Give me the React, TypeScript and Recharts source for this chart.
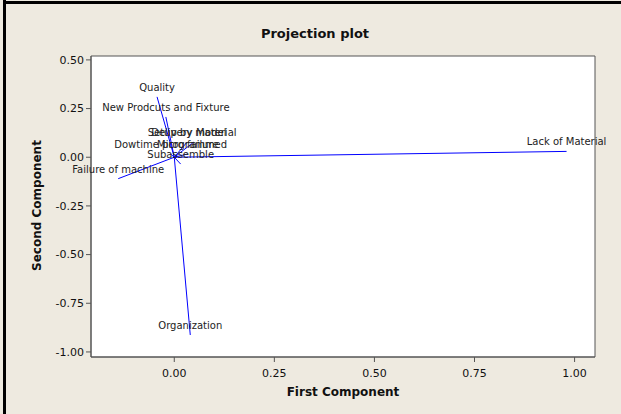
import React from 'react';
import { ScatterChart, Scatter, XAxis, YAxis, ReferenceArea } from 'recharts';

const variableNames = [
  'Lack of Material',
  'Organization',
  'Failure of machine',
  'Quality',
  'New Prodcuts and Fixture',
  'Setup by model',
  'Delivery Material',
  'Dowtime programmed',
  'Micro failure',
  'Subassemble',
];
const firstComponent = [0.98, 0.04, -0.14, -0.043, -0.021, 0.032, 0.049, -0.009, 0.034, 0.016];
const secondComponent = [0.03, -0.913, -0.11, 0.31, 0.207, 0.078, 0.078, 0.017, 0.017, -0.035];
const xTicks = [0, 0.25, 0.5, 0.75, 1];
const yTicks = [0.5, 0.25, 0, -0.25, -0.5, -0.75, -1];

const X_DOMAIN: [number, number] = [-0.208, 1.051];
const Y_DOMAIN: [number, number] = [-1.026, 0.52];

const FONT = '"DejaVu Sans", Tahoma, sans-serif';

const vectors = variableNames.map((name, i) => [
  { x: 0, y: 0 },
  { x: firstComponent[i], y: secondComponent[i], name },
]);
const endPoints = variableNames.map((name, i) => ({ x: firstComponent[i], y: secondComponent[i], name }));

const NoShape = () => <g />;

const LabelShape = (p: any) => (
  <text
    x={p.cx}
    y={p.cy - 6}
    textAnchor="middle"
    fontSize={10}
    fontFamily={FONT}
    fill="#222"
  >
    {p.payload.name}
  </text>
);

export default function App() {
  return (
    <div
      style={{
        position: 'absolute',
        left: 0,
        top: 0,
        width: 621,
        height: 414,
        background: '#EEEAE0',
        overflow: 'hidden',
      }}
    >
      <div style={{ position: 'absolute', left: 3, top: 0, width: 3, height: 414, background: '#000' }} />
      <div style={{ position: 'absolute', left: 3, top: 1, width: 618, height: 3, background: '#000' }} />
      <ScatterChart
        width={621}
        height={414}
        margin={{ top: 56, right: 26, bottom: 17, left: 0 }}
        style={{ position: 'absolute', left: 0, top: 0 }}
      >
        <XAxis
          type="number"
          dataKey="x"
          domain={X_DOMAIN}
          ticks={xTicks}
          height={40}
          tickFormatter={(v: number) => v.toFixed(2)}
          tick={{ fontSize: 11, fontFamily: FONT, fill: '#111' }}
          tickLine={{ stroke: '#555' }}
          axisLine={{ stroke: '#555' }}
          tickSize={5}
          tickMargin={7}
        />
        <YAxis
          type="number"
          dataKey="y"
          domain={Y_DOMAIN}
          ticks={yTicks}
          width={91}
          tickFormatter={(v: number) => v.toFixed(2)}
          tick={{ fontSize: 11, fontFamily: FONT, fill: '#111' }}
          tickLine={{ stroke: '#555' }}
          axisLine={{ stroke: '#555' }}
          tickSize={5}
        />
        <ReferenceArea
          x1={X_DOMAIN[0]}
          x2={X_DOMAIN[1]}
          y1={Y_DOMAIN[0]}
          y2={Y_DOMAIN[1]}
          fill="#ffffff"
          fillOpacity={1}
          stroke="#555"
          strokeWidth={1}
        />
        {vectors.map((v, i) => (
          <Scatter
            key={i}
            data={v}
            line={{ stroke: '#0000ff', strokeWidth: 1 }}
            shape={NoShape}
            isAnimationActive={false}
          />
        ))}
        <Scatter data={endPoints} shape={LabelShape} isAnimationActive={false} />
      </ScatterChart>
      <div
        style={{
          position: 'absolute',
          left: 0,
          width: 630,
          top: 26,
          textAlign: 'center',
          fontFamily: FONT,
          fontWeight: 'bold',
          fontSize: 13,
          color: '#111',
          lineHeight: '16px',
        }}
      >
        Projection plot
      </div>
      <div
        style={{
          position: 'absolute',
          left: 91,
          width: 504,
          top: 385,
          textAlign: 'center',
          fontFamily: FONT,
          fontWeight: 'bold',
          fontSize: 12,
          color: '#111',
          lineHeight: '15px',
        }}
      >
        First Component
      </div>
      <div
        style={{
          position: 'absolute',
          left: 37 - 100,
          top: 206 - 8,
          width: 200,
          textAlign: 'center',
          fontFamily: FONT,
          fontWeight: 'bold',
          fontSize: 12,
          color: '#111',
          lineHeight: '15px',
          transform: 'rotate(-90deg)',
        }}
      >
        Second Component
      </div>
    </div>
  );
}
